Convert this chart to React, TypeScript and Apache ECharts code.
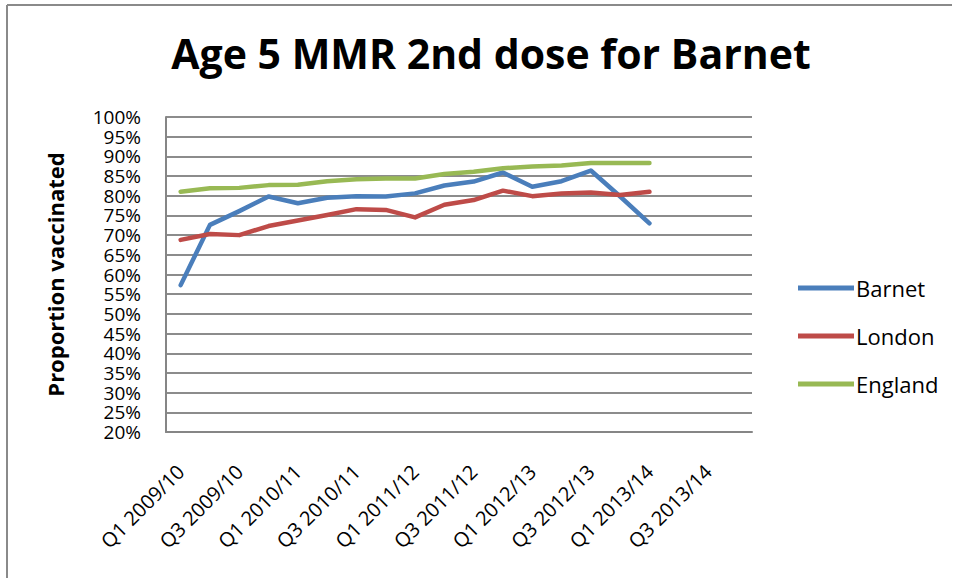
import React, { useEffect, useRef } from "react";
import * as echarts from "echarts";

const categories = [
  "Q1 2009/10", "Q2 2009/10", "Q3 2009/10", "Q4 2009/10",
  "Q1 2010/11", "Q2 2010/11", "Q3 2010/11", "Q4 2010/11",
  "Q1 2011/12", "Q2 2011/12", "Q3 2011/12", "Q4 2011/12",
  "Q1 2012/13", "Q2 2012/13", "Q3 2012/13", "Q4 2012/13",
  "Q1 2013/14", "Q2 2013/14", "Q3 2013/14", "Q4 2013/14",
];

const barnet = [57.3, 72.6, 76.1, 79.8, 78.1, 79.5, 79.9, 79.8, 80.6, 82.6, 83.6, 85.9, 82.3, 83.7, 86.4, 79.8, 73.0];
const london = [68.8, 70.3, 70.0, 72.3, 73.7, 75.1, 76.6, 76.4, 74.5, 77.7, 78.9, 81.3, 79.9, 80.6, 80.8, 80.2, 81.0];
const england = [81.0, 81.9, 82.0, 82.7, 82.8, 83.7, 84.2, 84.4, 84.4, 85.5, 86.1, 87.0, 87.4, 87.7, 88.3, 88.3, 88.3];

const FONT = "'Open Sans', sans-serif";

export default function App() {
  const ref = useRef<HTMLDivElement>(null);
  useEffect(() => {
    if (!ref.current) return;
    const chart = echarts.init(ref.current, null, { renderer: "svg" });
    const mk = (name: string, data: number[], color: string) => ({
      name,
      type: "line",
      data,
      symbol: "none",
      lineStyle: { color, width: 4.5, cap: "round", join: "round" },
      itemStyle: { color },
    });
    chart.setOption({
      animation: false,
      backgroundColor: "#fff",
      title: {
        text: "Age 5 MMR 2nd dose for Barnet",
        left: 486,
        top: 27,
        textAlign: "center",
        textStyle: { fontFamily: FONT, fontWeight: "bold", fontSize: 41, color: "#000" },
      },
      graphic: [
        { type: "line", shape: { x1: 7, y1: 5, x2: 952, y2: 5 }, style: { stroke: "#8a8a8a", lineWidth: 2 } },
        { type: "line", shape: { x1: 7, y1: 5, x2: 7, y2: 578 }, style: { stroke: "#8a8a8a", lineWidth: 2 } },
      ],
      legend: {
        orient: "vertical",
        left: 793,
        top: 271,
        icon: "rect",
        itemWidth: 56,
        itemHeight: 5,
        itemGap: 24,
        textStyle: { fontFamily: FONT, fontSize: 22, color: "#000", lineHeight: 24, padding: [0, 0, 0, -3] },
        data: ["Barnet", "London", "England"],
      },
      grid: { left: 166, top: 117, right: 205, bottom: 146 },
      xAxis: {
        type: "category",
        data: categories,
        boundaryGap: true,
        axisLine: { lineStyle: { color: "#868686", width: 2 } },
        axisTick: { show: false },
        axisLabel: {
          interval: 1,
          rotate: 45,
          margin: 36,
          fontFamily: FONT,
          fontSize: 20,
          color: "#000",
        },
      },
      yAxis: {
        type: "value",
        min: 20,
        max: 100,
        interval: 5,
        name: "Proportion vaccinated",
        nameLocation: "middle",
        nameRotate: 90,
        nameGap: 100,
        nameTextStyle: { fontFamily: FONT, fontWeight: "bold", fontSize: 22, color: "#000" },
        axisLine: { show: true, lineStyle: { color: "#868686", width: 2 } },
        axisTick: { show: false },
        splitLine: { lineStyle: { color: "#8c8c8c", width: 2 } },
        axisLabel: {
          formatter: "{value}%",
          showMinLabel: true,
          showMaxLabel: true,
          hideOverlap: false,
          margin: 25,
          fontFamily: FONT,
          fontSize: 19,
          color: "#000",
          lineHeight: 19,
        },
      },
      series: [
        mk("Barnet", barnet, "#4a7ebb"),
        mk("London", london, "#be4b48"),
        mk("England", england, "#98b954"),
      ],
    });
    return () => chart.dispose();
  }, []);
  return (
    <div
      ref={ref}
      style={{ position: "fixed", left: 0, top: 0, width: 957, height: 578, background: "#fff" }}
    />
  );
}
